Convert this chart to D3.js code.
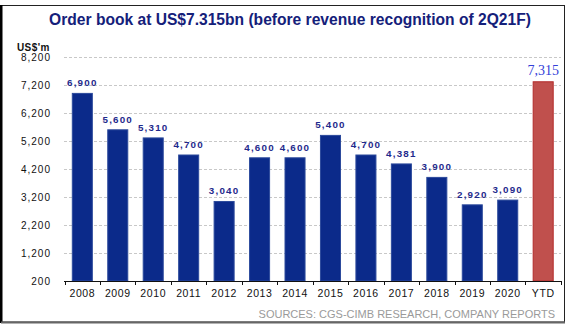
<!DOCTYPE html>
<html><head><meta charset="utf-8">
<script src="https://cdn.jsdelivr.net/npm/d3@7"></script>
<style>
html,body{margin:0;padding:0;background:#fff;}
svg{display:block;}
</style></head>
<body>
<script>
const categories = ["2008","2009","2010","2011","2012","2013","2014","2015","2016","2017","2018","2019","2020","YTD"];
const values = [6900,5600,5310,4700,3040,4600,4600,5400,4700,4381,3900,2920,3090,7315];
const yTicks = [200,1200,2200,3200,4200,5200,6200,7200,8200];
const title = "Order book at US$7.315bn (before revenue recognition of 2Q21F)";
const unitLabel = "US$'m";
const sourceText = "SOURCES: CGS-CIMB RESEARCH, COMPANY REPORTS";

const W = 570, H = 328;
const svg = d3.select("body").append("svg").attr("width", W).attr("height", H);

// frame
svg.append("rect").attr("x",1.5).attr("y",5.5).attr("width",563).attr("height",316.5)
  .attr("fill","none").attr("stroke","#222").attr("stroke-width",1);
svg.append("line").attr("x1",1).attr("x2",1).attr("y1",5).attr("y2",323).attr("stroke","#000").attr("stroke-width",3);
svg.append("line").attr("x1",1).attr("x2",565).attr("y1",322.5).attr("y2",322.5).attr("stroke","#666").attr("stroke-width",2);

const x = d3.scaleBand().domain(categories).range([64.5, 561]).paddingInner(0.435).paddingOuter(0.22);
const y = d3.scaleLinear().domain([200, 8200]).range([281, 57]);

// title
svg.append("text").attr("x", 290).attr("y", 25).attr("text-anchor","middle")
  .attr("font-family","Liberation Sans, Arial, sans-serif").attr("font-weight","bold")
  .attr("font-size", 15.6).attr("fill","#14207a").text(title);

// unit
svg.append("text").attr("x",17).attr("y",51).attr("font-family","Liberation Sans, Arial, sans-serif")
  .attr("font-weight","bold").attr("font-size",10).attr("letter-spacing",0.4).attr("fill","#111").text(unitLabel);

// gridlines
svg.append("g").selectAll("line").data(yTicks.filter(d => d !== 200)).join("line")
  .attr("x1",64).attr("x2",561).attr("y1",d=>Math.round(y(d))+0.5).attr("y2",d=>Math.round(y(d))+0.5)
  .attr("stroke","#c8c8c8").attr("stroke-width",1).attr("stroke-dasharray","3,2");

// y tick labels
const yAxis = d3.axisLeft(y).tickValues(yTicks).tickSize(0).tickPadding(0).tickFormat(d3.format(","));
const gy = svg.append("g").attr("transform","translate(51,0)").call(yAxis);
gy.select(".domain").remove();
gy.selectAll("text").attr("font-family","Liberation Sans, Arial, sans-serif").attr("font-size",10)
  .attr("letter-spacing",1).attr("fill","#111").attr("dy","0.35em").attr("x",0);

// bars
svg.append("g").selectAll("rect").data(values).join("rect")
  .attr("x",(d,i)=>x(categories[i]))
  .attr("y",d=>y(d))
  .attr("width",x.bandwidth())
  .attr("height",d=>y(200)-y(d))
  .attr("fill",(d,i)=>categories[i]==="YTD" ? "#c0504d" : "#0b2a8a")
  .attr("stroke",(d,i)=>categories[i]==="YTD" ? "#b22a2a" : "#2c4a9c")
  .attr("stroke-width",1);

// x axis
const xAxis = d3.axisBottom(x).tickSize(0).tickPadding(0);
const gx = svg.append("g").attr("transform",`translate(0,${y(200)})`).call(xAxis);
gx.select(".domain").attr("d",`M64,0.5H561`).attr("stroke","#111").attr("stroke-width",1);
gx.selectAll("text").attr("font-family","Liberation Sans, Arial, sans-serif").attr("font-size",10.5)
  .attr("letter-spacing",0.6).attr("fill","#111").attr("dy",0).attr("y",16);
// boundary tick marks
const step = x.step();
const bounds = d3.range(categories.length+1).map(i => x(categories[0]) - x.paddingInner()*step/2 + i*step);
gx.append("g").selectAll("line").data(bounds).join("line")
  .attr("x1",d=>Math.round(d)+0.5).attr("x2",d=>Math.round(d)+0.5).attr("y1",0).attr("y2",4)
  .attr("stroke","#111").attr("stroke-width",1);

// value labels
svg.append("g").selectAll("text").data(values).join("text")
  .attr("x",(d,i)=>x(categories[i]) + x.bandwidth()/2)
  .attr("y",(d,i)=>y(d) - 7)
  .attr("text-anchor","middle")
  .attr("font-family",(d,i)=>categories[i]==="YTD" ? "Liberation Serif, Times New Roman, serif" : "Liberation Sans, Arial, sans-serif")
  .attr("font-weight",(d,i)=>categories[i]==="YTD" ? "normal" : "bold")
  .attr("font-size",(d,i)=>categories[i]==="YTD" ? 14 : 9.8)
  .attr("letter-spacing",(d,i)=>categories[i]==="YTD" ? 0 : 1.2)
  .attr("fill",(d,i)=>categories[i]==="YTD" ? "#3340d8" : "#1f2a8c")
  .text(d=>d3.format(",")(d));

// source
svg.append("text").attr("x",555).attr("y",318).attr("text-anchor","end")
  .attr("font-family","Liberation Sans, Arial, sans-serif").attr("font-size",11)
  .attr("fill","#9a9a9a").text(sourceText);
</script>
</body></html>
